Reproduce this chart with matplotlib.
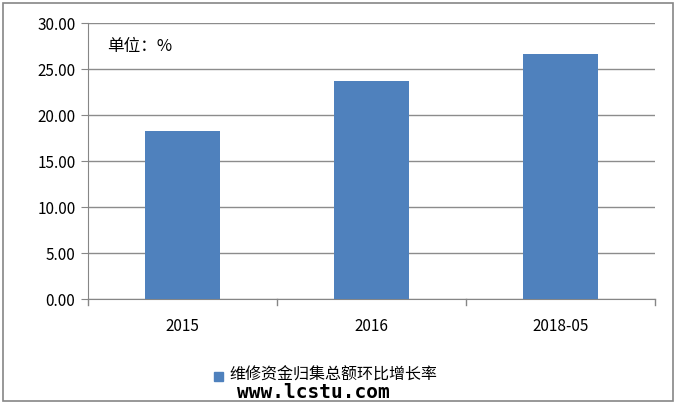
import matplotlib
matplotlib.use("Agg")
import matplotlib.pyplot as plt
from matplotlib.patches import Rectangle

plt.rcParams['font.family'] = ['Noto Sans CJK SC', 'DejaVu Sans']

# datos
categorias = ['2015', '2016', '2018-05']
valores = [18.30, 23.70, 26.65]
serie = '维修资金归集总额环比增长率'

W, H = 678, 409
fig = plt.figure(figsize=(W / 100, H / 100), dpi=100)

# marco exterior
fig.patches.append(Rectangle((3 / W, 1 - 401 / H), 670 / W, 398 / H,
                             transform=fig.transFigure, fill=False,
                             edgecolor='#868686', linewidth=1.2))

ax = fig.add_axes([88 / W, 1 - 299 / H, 567 / W, 276 / H])
x = list(range(len(categorias)))
ax.bar(x, valores, width=0.40, color='#4f81bd', zorder=3)

ax.set_xlim(-0.5, len(categorias) - 0.5)
ax.set_ylim(0, 30)
ax.set_yticks([0, 5, 10, 15, 20, 25, 30])
ax.set_yticklabels([f'{v:.2f}' for v in ax.get_yticks()], fontsize=11)
ax.set_xticks(x)
ax.set_xticklabels(categorias, fontsize=11)
ax.tick_params(axis='x', length=0, pad=14)
ax.tick_params(axis='y', length=5, color='#868686', pad=4)
for b in [-0.5, 0.5, 1.5, 2.5]:
    ax.plot([b, b], [0, -0.022], transform=ax.get_xaxis_transform(),
            color='#868686', lw=1, clip_on=False)

ax.grid(axis='y', color='#8c8c8c', lw=1, zorder=0)
for s in ['top', 'right']:
    ax.spines[s].set_visible(False)
ax.spines['left'].set_color('#868686')
ax.spines['bottom'].set_color('#868686')

ax.text(107 / W, 1 - 47 / H, '单位：%', transform=fig.transFigure,
        fontsize=12, va='center', ha='left')

# leyenda
fig.patches.append(Rectangle((214 / W, 1 - 381 / H), 9 / W, 9 / H,
                             transform=fig.transFigure, color='#4f81bd'))
fig.text(229 / W, 1 - 375 / H, serie, fontsize=11.5, va='center', ha='left')

# marca de agua
fig.text(237 / W, 1 - 392 / H, 'www.lcstu.com', fontsize=14, fontweight='bold',
         family='DejaVu Sans Mono', va='center', ha='left', color='black')

fig.savefig('out.png', dpi=100)
